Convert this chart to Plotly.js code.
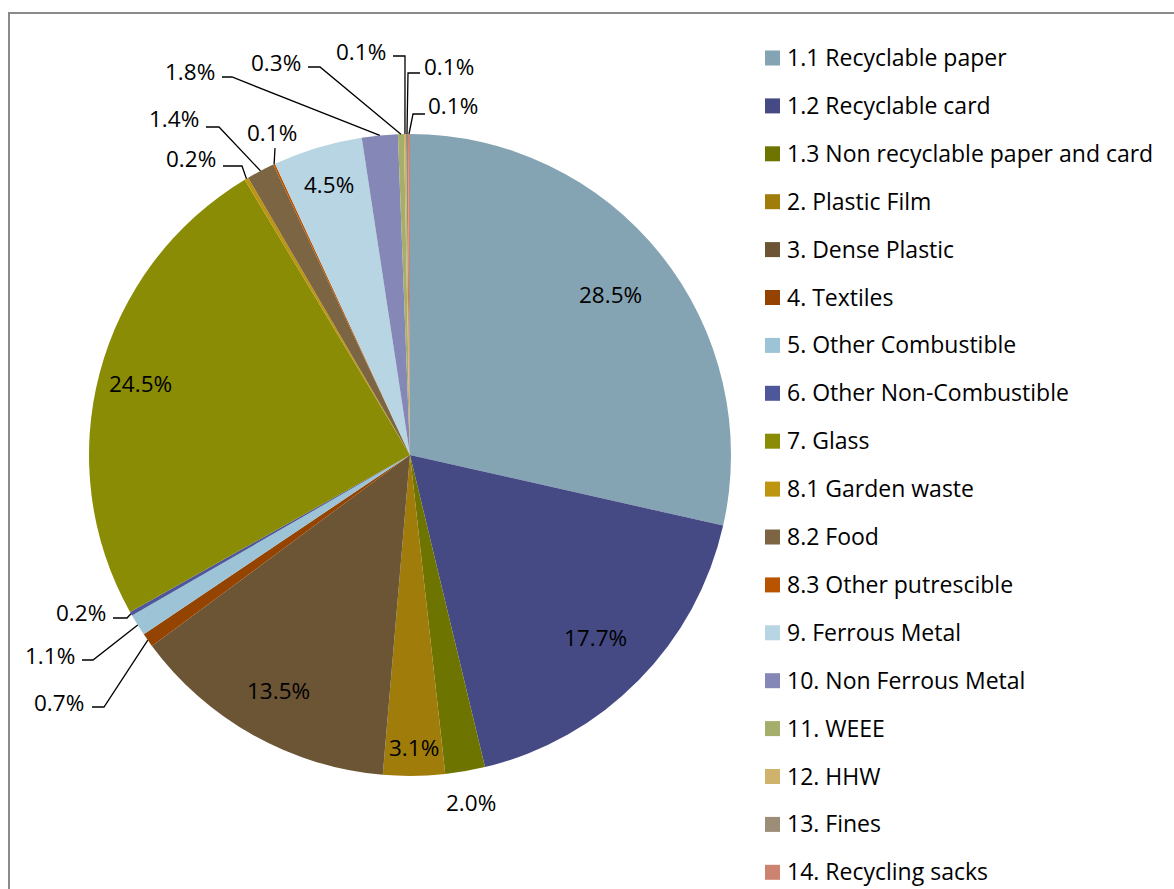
<!DOCTYPE html>
<html>
<head>
<meta charset="utf-8">
<script src="https://cdn.plot.ly/plotly-3.0.1.min.js"></script>
<style>html,body{margin:0;padding:0;background:#fff;}#chart{width:1174px;height:889px;}</style>
</head>
<body>
<div id="chart"></div>
<script>
// ---- data ----
const categories = [
  "1.1 Recyclable paper", "1.2 Recyclable card", "1.3 Non recyclable paper and card",
  "2. Plastic Film", "3. Dense Plastic", "4. Textiles", "5. Other Combustible",
  "6. Other Non-Combustible", "7. Glass", "8.1 Garden waste", "8.2 Food",
  "8.3 Other putrescible", "9. Ferrous Metal", "10. Non Ferrous Metal", "11. WEEE",
  "12. HHW", "13. Fines", "14. Recycling sacks"
];
const values = [28.5, 17.7, 2.0, 3.1, 13.5, 0.7, 1.1, 0.2, 24.5, 0.2, 1.4, 0.1, 4.5, 1.8, 0.3, 0.1, 0.1, 0.1];
const colors = [
  "#84A3B3", "#454A85", "#6E7400", "#A07C0A", "#6B5535", "#954300", "#9DC3D6",
  "#4F579B", "#8A8C05", "#BD9510", "#7B6542", "#B85300", "#B8D5E4", "#8587B7",
  "#A5AE6A", "#CFB26B", "#9C8D79", "#CC8370"
];

// ---- layout geometry (pixels) ----
const W = 1174, H = 889;
const CX = 410, CY = 455, R = 321;
const FONT = "'Open Sans', Lato, sans-serif";
const FS = 22.5;
const LEG_FS = 23;

// label placement: inside labels use radial fraction; outside labels use pixel text centre + leader elbow
const insideFrac = {0: 0.80, 1: 0.81, 3: 0.91, 4: 0.84, 8: 0.87, 12: 0.88, 2: 1.10};
const outsideLabels = {
  5:  {t: [59, 702],  end: [92, 707],  elbow: [104, 707]},
  6:  {t: [50, 655],  end: [82, 660],  elbow: [93, 660]},
  7:  {t: [81, 612],  end: [113, 618], elbow: [127, 618]},
  9:  {t: [191, 159], end: [223, 166], elbow: [242, 166]},
  10: {t: [174, 119], end: [206, 127], elbow: [219, 127]},
  11: {t: [272, 133], end: [275, 148], elbow: [275, 148]},
  13: {t: [190, 71],  end: [222, 77],  elbow: [232, 77]},
  14: {t: [276, 62],  end: [308, 67],  elbow: [320, 67]},
  15: {t: [361, 51],  end: [393, 56],  elbow: [405, 56]},
  16: {t: [449, 66],  end: [420, 73],  elbow: [408, 73]},
  17: {t: [453, 105], end: [425, 114], elbow: [413, 114]}
};

const px = x => x / W;
const py = y => 1 - y / H;

const total = values.reduce((a, b) => a + b, 0);
let cum = 0;
const annotations = [];
const shapes = [];

values.forEach((v, i) => {
  const mid = (cum + v / 2) / total * 2 * Math.PI; // clockwise from 12 o'clock
  cum += v;
  const sx = Math.sin(mid), cy = Math.cos(mid);
  const label = v.toFixed(1) + "%";
  if (outsideLabels[i]) {
    const o = outsideLabels[i];
    const ax = CX + R * sx, ay = CY - R * cy;
    annotations.push({
      xref: "paper", yref: "paper", x: px(o.t[0]), y: py(o.t[1]),
      xanchor: "center", yanchor: "middle", showarrow: false,
      text: label, font: {family: FONT, size: FS, color: "#000"}
    });
    shapes.push({
      type: "path", xref: "paper", yref: "paper",
      path: `M ${px(o.end[0])} ${py(o.end[1])} L ${px(o.elbow[0])} ${py(o.elbow[1])} L ${px(ax)} ${py(ay)}`,
      line: {color: "#000", width: 1.3}
    });
  } else {
    const f = insideFrac[i] !== undefined ? insideFrac[i] : 0.8;
    annotations.push({
      xref: "paper", yref: "paper", x: px(CX + f * R * sx), y: py(CY - f * R * cy),
      xanchor: "center", yanchor: "middle", showarrow: false,
      text: label, font: {family: FONT, size: FS, color: "#000"}
    });
  }
});

// legend (manual, to match row spacing)
const LEG_X = 765, LEG_Y0 = 57, LEG_DY = 47.9, SQ = 15;
categories.forEach((c, i) => {
  const y = LEG_Y0 + i * LEG_DY;
  shapes.push({
    type: "rect", xref: "paper", yref: "paper",
    x0: px(LEG_X), x1: px(LEG_X + SQ), y0: py(y + 1 + SQ / 2), y1: py(y + 1 - SQ / 2),
    fillcolor: colors[i], line: {width: 0}
  });
  annotations.push({
    xref: "paper", yref: "paper", x: px(785), y: py(y),
    xanchor: "left", yanchor: "middle", showarrow: false,
    text: c, font: {family: FONT, size: LEG_FS, color: "#000"}
  });
});

// chart frame
shapes.push({
  type: "rect", xref: "paper", yref: "paper",
  x0: px(9), x1: px(W + 5), y0: py(H + 5), y1: py(13),
  line: {color: "#8a8a8a", width: 2}, fillcolor: "rgba(0,0,0,0)"
});

const trace = {
  type: "pie",
  labels: categories,
  values: values,
  sort: false,
  direction: "clockwise",
  rotation: 0,
  textinfo: "none",
  hoverinfo: "label+percent",
  marker: {colors: colors, line: {width: 0}},
  domain: {x: [px(CX - R), px(CX + R)], y: [py(CY + R), py(CY - R)]},
  showlegend: false
};

const layout = {
  width: W, height: H,
  margin: {l: 0, r: 0, t: 0, b: 0},
  paper_bgcolor: "#fff",
  showlegend: false,
  annotations: annotations,
  shapes: shapes,
  font: {family: FONT}
};

Plotly.newPlot("chart", [trace], layout, {staticPlot: true});
</script>
</body>
</html>
